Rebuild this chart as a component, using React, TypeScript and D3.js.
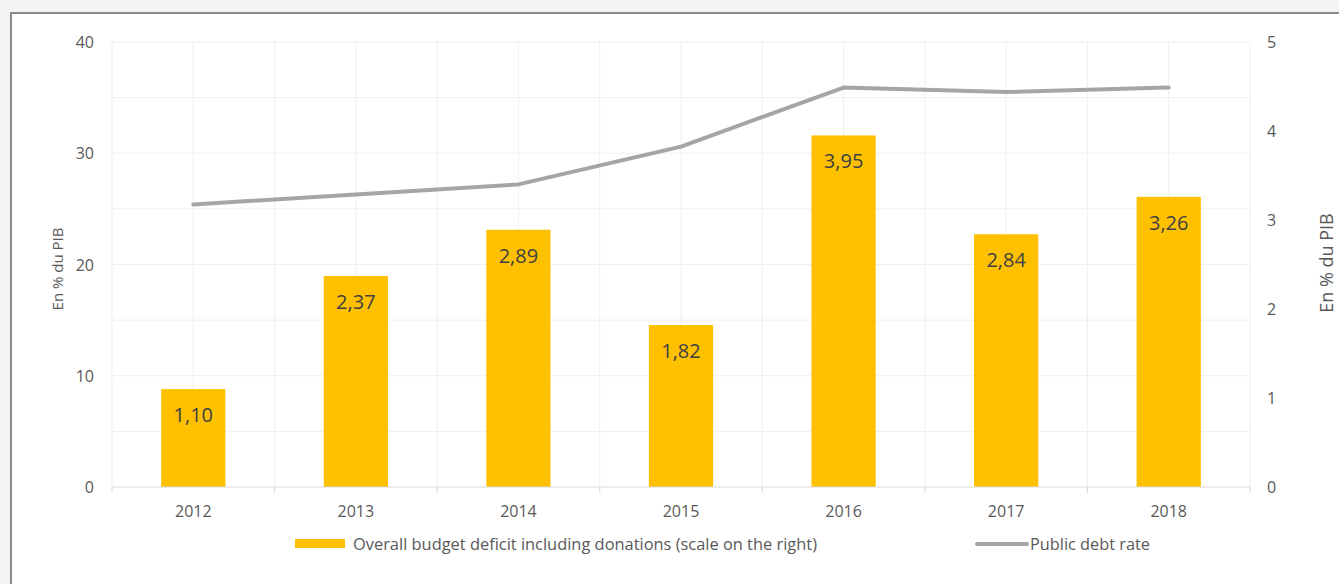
import React from "react";
import * as d3 from "d3";

const years = ["2012", "2013", "2014", "2015", "2016", "2017", "2018"];
const deficit = [1.10, 2.37, 2.89, 1.82, 3.95, 2.84, 3.26];
const debt = [25.4, 26.3, 27.2, 30.6, 35.9, 35.5, 35.9];
const leftTicks = [0, 10, 20, 30, 40];
const rightTicks = [0, 1, 2, 3, 4, 5];
const gridVals = [5, 10, 15, 20, 25, 30, 35, 40];
const legendBar = "Overall budget deficit including donations (scale on the right)";
const legendLine = "Public debt rate";
const axisTitle = "En % du PIB";

const W = 1339, H = 584;
const left = 112, right = 1250, top = 42, bottom = 487;
const font = "'Open Sans', 'Noto Sans', sans-serif";

export default function App() {
  const x = d3.scaleBand().domain(years).range([left, right]).paddingInner(0).paddingOuter(0);
  const yL = d3.scaleLinear().domain([0, 40]).range([bottom, top]);
  const yR = d3.scaleLinear().domain([0, 5]).range([bottom, top]);
  const bw = x.bandwidth() * 0.395;
  const line = d3.line<number>()
    .x((_, i) => (x(years[i]) as number) + x.bandwidth() / 2)
    .y((d) => yL(d));
  const vLines: number[] = [];
  years.forEach((y) => {
    const x0 = x(y) as number;
    vLines.push(x0, x0 + x.bandwidth() / 2);
  });
  vLines.push(right);
  return (
    <svg width={W} height={H} style={{ position: "absolute", left: 0, top: 0 }} fontFamily={font}>
      <rect x={0} y={0} width={W} height={H} fill="#f3f3f5" />
      <rect x={11} y={13} width={W + 20} height={H + 20} fill="#ffffff" stroke="#8a8a8a" strokeWidth={2} />
      {gridVals.map((v) => (
        <line key={"g" + v} x1={left} x2={right} y1={yL(v)} y2={yL(v)} stroke="#efefef" strokeWidth={1} />
      ))}
      {vLines.map((v, i) => (
        <line key={"v" + i} x1={v} x2={v} y1={top} y2={bottom} stroke="#efefef" strokeWidth={1} />
      ))}
      {years.map((y, i) => {
        const cx = (x(y) as number) + x.bandwidth() / 2;
        return (
          <g key={"b" + y}>
            <rect x={cx - bw / 2} y={yR(deficit[i])} width={bw} height={bottom - yR(deficit[i])} fill="#FFC000" />
            <text x={cx} y={yR(deficit[i]) + 33} textAnchor="middle" fontSize={20} fill="#404040">
              {deficit[i].toFixed(2).replace(".", ",")}
            </text>
          </g>
        );
      })}
      <path d={line(debt) as string} fill="none" stroke="#a5a5a5" strokeWidth={4} strokeLinecap="round" strokeLinejoin="round" />
      <line x1={left} x2={right} y1={bottom} y2={bottom} stroke="#d9d9d9" strokeWidth={1} />
      {years.map((y) => (
        <line key={"t" + y} x1={x(y) as number} x2={x(y) as number} y1={bottom} y2={bottom + 6} stroke="#d9d9d9" />
      ))}
      <line x1={right} x2={right} y1={bottom} y2={bottom + 6} stroke="#d9d9d9" />
      {years.map((y) => (
        <text key={"xl" + y} x={(x(y) as number) + x.bandwidth() / 2} y={bottom + 30} textAnchor="middle" fontSize={16} fill="#595959">{y}</text>
      ))}
      {leftTicks.map((t) => (
        <text key={"l" + t} x={94} y={yL(t) + 6} textAnchor="end" fontSize={16} fill="#595959">{t}</text>
      ))}
      {rightTicks.map((t) => (
        <text key={"r" + t} x={1267} y={yR(t) + 6} textAnchor="start" fontSize={16} fill="#595959">{t}</text>
      ))}
      <text transform={`translate(63,269) rotate(-90)`} textAnchor="middle" fontSize={15} fill="#595959">{axisTitle}</text>
      <text transform={`translate(1333,263) rotate(-90)`} textAnchor="middle" fontSize={18} fill="#595959">{axisTitle}</text>
      <rect x={295} y={539} width={50} height={9} fill="#FFC000" />
      <text x={353} y={550} fontSize={16} fill="#595959" textLength={464} lengthAdjust="spacingAndGlyphs">{legendBar}</text>
      <line x1={977} x2={1027} y1={544} y2={544} stroke="#a5a5a5" strokeWidth={4} strokeLinecap="round" />
      <text x={1030} y={550} fontSize={16} fill="#595959" textLength={120} lengthAdjust="spacingAndGlyphs">{legendLine}</text>
    </svg>
  );
}
